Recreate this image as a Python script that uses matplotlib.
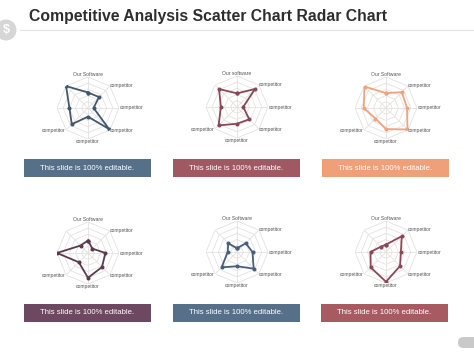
import numpy as np
import matplotlib
matplotlib.use("Agg")
import matplotlib.pyplot as plt
from matplotlib.patches import Rectangle, Circle, FancyBboxPatch
from matplotlib.lines import Line2D
from matplotlib.transforms import IdentityTransform

W, H = 474, 355

# ---------------- data ----------------
title = "Competitive Analysis Scatter Chart Radar Chart"
banner_text = "This slide is 100% editable."
labels_a = ["Our Software", "competitor", "competitor", "competitor", "competitor", "competitor", "", ""]
labels_b = ["Our software", "competitor", "competitor", "competitor", "competitor", "competitor", "", ""]

values_1 = [2.5, 2.5, 0.9, 4.8, 1.4, 3.7, 3.0, 5.0]
values_2 = [2.2, 4.1, 1.0, 2.8, 2.7, 4.2, 2.6, 4.1]
values_3 = [2.4, 3.6, 3.4, 4.9, 3.4, 2.4, 3.6, 4.9]
values_4 = [2.0, 1.0, 2.8, 3.2, 4.0, 2.1, 5.0, 1.7]
values_5 = [0.6, 2.0, 2.5, 3.8, 2.3, 3.5, 1.5, 2.0]
values_6 = [1.2, 3.6, 2.4, 3.2, 4.8, 3.5, 2.5, 1.2]

line_colors = ["#44586C", "#8A4754", "#F2A27E", "#5C3A4E", "#46607A", "#8C4856"]
banner_colors = ["#56708A", "#A05862", "#F0A078", "#6E4860", "#56708A", "#A85A62"]

# ---------------- layout ----------------
centers = [(88, 108), (237, 107), (386, 108), (88, 253), (237, 252), (386, 252)]
banners = [(24, 159, 127, 18), (173, 159, 127, 18), (322, 159, 127, 18),
           (24, 304, 127, 18), (173, 304, 127, 18), (321, 304, 127, 18)]
R = 31
RMAX = 5

all_values = [values_1, values_2, values_3, values_4, values_5, values_6]
all_labels = [labels_a, labels_b, labels_a, labels_a, labels_a, labels_a]

fig = plt.figure(figsize=(W / 100, H / 100), dpi=100)
fig.patch.set_facecolor("white")
px = IdentityTransform()

# title and rule
fig.text(29 / W, 1 - 21 / H, title, fontsize=11.3, fontweight="bold",
         family="Liberation Sans", color="#2E2E2E", va="baseline", ha="left")
fig.add_artist(Line2D([20 / W, 1.0], [1 - 30 / H, 1 - 30 / H], color="#E2E2E2", lw=0.8))

# dollar badge
fig.add_artist(Circle((6, H - 30), 10.5, transform=px, facecolor="#D6D6D6", edgecolor="none"))
fig.text(6 / W, 1 - 30 / H, "$", fontsize=9, fontweight="bold", color="white",
         ha="center", va="center", family="Liberation Sans")

# bottom-right pill
fig.add_artist(FancyBboxPatch((458, H - 348), 30, 11, boxstyle="round,pad=0,rounding_size=5.5",
                              transform=px, facecolor="#C9C9C9", edgecolor="none"))

n = 8
theta = np.arange(n) * 2 * np.pi / n
theta_c = np.append(theta, theta[0])
grid_color = "#E4E2E0"

label_pos = {
    0: (5.45, "center", "center"),
    1: (5.05, "left", "center"),
    2: (5.05, "left", "center"),
    3: (5.05, "left", "center"),
    4: (5.45, "center", "center"),
    5: (5.05, "right", "center"),
    6: (5.05, "right", "center"),
    7: (5.05, "right", "center"),
}

for i, (cx, cy) in enumerate(centers):
    ax = fig.add_axes([(cx - R) / W, 1 - (cy + R) / H, 2 * R / W, 2 * R / H], projection="polar")
    ax.set_theta_zero_location("N")
    ax.set_theta_direction(-1)
    ax.set_ylim(0, RMAX)
    ax.axis("off")
    for k in range(1, RMAX + 1):
        ax.plot(theta_c, [k] * (n + 1), color=grid_color, lw=0.6, zorder=1)
    for t in theta:
        ax.plot([t, t], [0, RMAX], color=grid_color, lw=0.6, zorder=1)
    vals = all_values[i]
    vc = np.append(vals, vals[0])
    ax.plot(theta_c, vc, color=line_colors[i], lw=1.3, marker="o", ms=1.9, zorder=3,
            solid_joinstyle="miter")
    for j, lab in enumerate(all_labels[i]):
        if not lab:
            continue
        r, ha, va = label_pos[j]
        ax.text(theta[j], r, lab, fontsize=3.6, color="#555555", ha=ha, va=va,
                family="Liberation Sans", clip_on=False)

for i, (x, y, w, h) in enumerate(banners):
    fig.add_artist(Rectangle((x, H - y - h), w, h, transform=px,
                             facecolor=banner_colors[i], edgecolor="none"))
    fig.text((x + w / 2) / W, 1 - (y + h / 2) / H, banner_text, fontsize=5.6,
             color="white", ha="center", va="center", family="Liberation Sans")

fig.savefig("out.png", dpi=100, facecolor="white")
